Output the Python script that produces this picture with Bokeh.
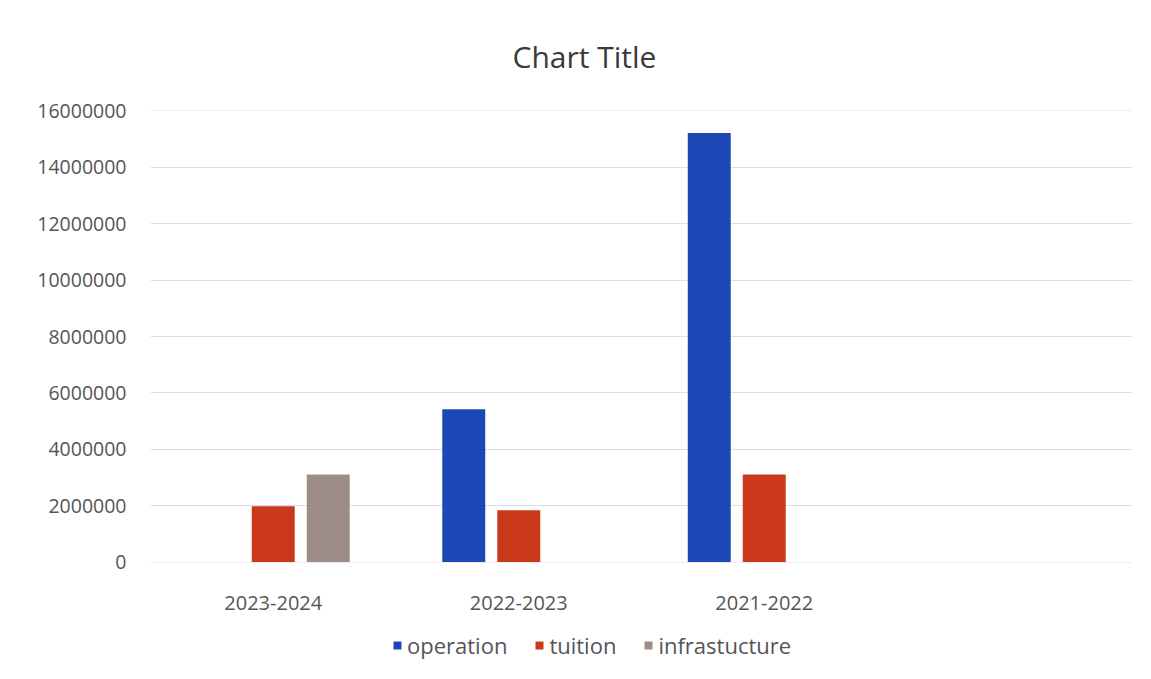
from bokeh.plotting import figure
from bokeh.models import ColumnDataSource, FactorRange, FixedTicker, NumeralTickFormatter, Legend, LegendItem, Title
from bokeh.layouts import column
from bokeh.transform import dodge
from bokeh.embed import file_html
from bokeh.resources import INLINE

categories = ["2023-2024", "2022-2023", "2021-2022"]
axis_factors = categories + [" "]
operation = [0, 5420000, 15220000]
tuition = [1980000, 1840000, 3110000]
infrastucture = [3110000, 0, 0]
series_names = ["operation", "tuition", "infrastucture"]
y_ticks = [0, 2000000, 4000000, 6000000, 8000000, 10000000, 12000000, 14000000, 16000000]

colors = ["#1c48b6", "#c9391a", "#9e8c88"]
FONT = "Open Sans"

src = ColumnDataSource(data=dict(cat=categories, operation=operation,
                                 tuition=tuition, infrastucture=infrastucture))

p = figure(width=1151, height=620, x_range=FactorRange(*axis_factors, range_padding=0),
           y_range=(-15000, 16015000), output_backend="svg", toolbar_location=None,
           min_border_left=150, min_border_right=19, min_border_top=110, min_border_bottom=58)
p.title = None
t = Title(text="Chart Title", align="left", offset=362, standoff=67,
          text_font=FONT, text_font_size="30px", text_font_style="normal", text_color="#3a3a3a")
p.add_layout(t, "above")

offsets = [-0.224, 0.0, 0.224]
renderers = []
for name, off, col in zip(series_names, offsets, colors):
    r = p.vbar(x=dodge("cat", off, range=p.x_range), top=name, width=0.175, source=src,
               fill_color=col, line_color=None)
    renderers.append(r)

p.outline_line_color = None
p.background_fill_color = "white"
p.border_fill_color = "white"

p.xgrid.grid_line_color = None
p.ygrid.grid_line_color = "#e3d9ea"
p.ygrid.grid_line_width = 1
p.yaxis.ticker = FixedTicker(ticks=y_ticks)
p.yaxis.formatter = NumeralTickFormatter(format="0")

for ax in (p.xaxis[0], p.yaxis[0]):
    ax.axis_line_color = None
    ax.major_tick_line_color = None
    ax.minor_tick_line_color = None
    ax.major_label_text_font = FONT
    ax.major_label_text_font_size = "20px"
    ax.major_label_text_color = "#555555"
p.yaxis.major_label_text_font_size = "19.5px"
p.yaxis.major_label_standoff = 18
p.xaxis.major_label_standoff = 20

# legend strip below the chart (same series colours); swatch renderers have zero height
lf = figure(width=1151, height=59, output_backend="svg", toolbar_location=None,
            x_axis_type=None, y_axis_type=None, x_range=(0, 1), y_range=(0, 1),
            min_border=0, min_border_left=0, min_border_right=0, min_border_top=0, min_border_bottom=0)
lf.outline_line_color = None
lf.grid.grid_line_color = None
leg_src = ColumnDataSource(data=dict(x=[0], top=[0]))
leg_rs = [lf.vbar(x="x", top="top", width=0.0, source=leg_src, fill_color=c, line_color=None)
          for c in colors]
legend = Legend(items=[LegendItem(label=n, renderers=[r]) for n, r in zip(series_names, leg_rs)],
                orientation="horizontal", location=(242, 19),
                label_text_font=FONT, label_text_font_size="22px", label_text_color="#555555",
                glyph_width=10, glyph_height=10, spacing=27, label_standoff=5,
                padding=0, margin=0, border_line_color=None, background_fill_alpha=0)
lf.add_layout(legend, "center")

layout = column(p, lf, spacing=0)
open("out.html", "w").write(file_html(layout, INLINE))
